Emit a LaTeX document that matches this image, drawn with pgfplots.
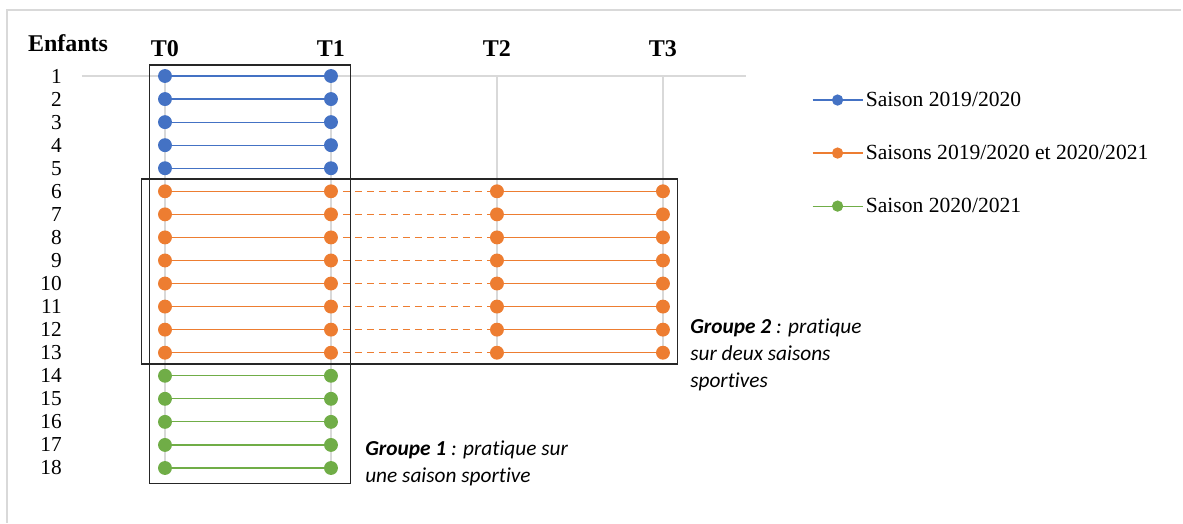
\documentclass[border=0pt]{standalone}
\usepackage{fontspec}
\setmainfont{Liberation Serif}
\newfontfamily\calibri[Ligatures={NoCommon}]{Carlito}
\usepackage{pgfplots}
\pgfplotsset{compat=1.18}
\definecolor{cblue}{HTML}{4472C4}
\definecolor{corange}{HTML}{ED7D31}
\definecolor{cgreen}{HTML}{70AD47}
\definecolor{cgrid}{HTML}{D9D9D9}
\begin{document}
\begin{tikzpicture}
\begin{axis}[
  scale only axis, width=498pt, height=302.66pt,
  xmin=-0.5, xmax=3.5, ymin=1, ymax=18.5, y dir=reverse,
  clip=false,
  axis line style={draw=none},
  major tick length=0pt,
  xtick={0,1,2,3}, xticklabels={T0,T1,T2,T3},
  xticklabel pos=upper,
  xticklabel style={font=\fontsize{18}{20}\selectfont\bfseries, anchor=south, yshift=11.2pt},
  ytick={1,2,3,4,5,6,7,8,9,10,11,12,13,14,15,16,17,18},
  yticklabels={1,2,3,4,5,6,7,8,9,10,11,12,13,14,15,16,17,18},
  yticklabel style={font=\fontsize{16}{18}\selectfont, anchor=east, xshift=-11.7pt},
  unbounded coords=jump,
  legend style={draw=none, fill=none, at={(axis description cs:1.093,0.809)}, anchor=west,
    font=\fontsize{16.2}{18}\selectfont, row sep=23.5pt},
  legend cell align=left,
  legend image code/.code={\draw[mark repeat=2,mark phase=2,mark size=3.75pt] plot coordinates {(0pt,0pt)(18.75pt,0pt)(37.5pt,0pt)};},
]
% top axis line
\addplot[forget plot, cgrid, line width=1.5pt] coordinates {(-0.5,1)(3.5,1)};
% vertical guide lines
\addplot[forget plot, cgrid, line width=1.5pt] coordinates {(0,1)(0,18) (nan,nan) (1,1)(1,18) (nan,nan) (2,1)(2,13) (nan,nan) (3,1)(3,13)};
% dashed connections T1-T2
\addplot[forget plot, corange, line width=1pt, dash pattern=on 5pt off 4pt] coordinates {
(1,6)(2,6) (nan,nan) (1,7)(2,7) (nan,nan) (1,8)(2,8) (nan,nan) (1,9)(2,9) (nan,nan)
(1,10)(2,10) (nan,nan) (1,11)(2,11) (nan,nan) (1,12)(2,12) (nan,nan) (1,13)(2,13)};
% blue
\addplot[cblue, line width=0.9pt, mark=*, mark size=4.75pt, mark options={solid, draw=cblue, fill=cblue}] coordinates {
(0,1)(1,1) (nan,nan) (0,2)(1,2) (nan,nan) (0,3)(1,3) (nan,nan) (0,4)(1,4) (nan,nan) (0,5)(1,5)};
\addlegendentry{Saison 2019/2020}
% orange
\addplot[corange, line width=0.9pt, mark=*, mark size=4.75pt, mark options={solid, draw=corange, fill=corange}] coordinates {
(0,6)(1,6) (nan,nan) (2,6)(3,6) (nan,nan)
(0,7)(1,7) (nan,nan) (2,7)(3,7) (nan,nan)
(0,8)(1,8) (nan,nan) (2,8)(3,8) (nan,nan)
(0,9)(1,9) (nan,nan) (2,9)(3,9) (nan,nan)
(0,10)(1,10) (nan,nan) (2,10)(3,10) (nan,nan)
(0,11)(1,11) (nan,nan) (2,11)(3,11) (nan,nan)
(0,12)(1,12) (nan,nan) (2,12)(3,12) (nan,nan)
(0,13)(1,13) (nan,nan) (2,13)(3,13)};
\addlegendentry{Saisons 2019/2020 et 2020/2021}
% green
\addplot[cgreen, line width=0.9pt, mark=*, mark size=4.75pt, mark options={solid, draw=cgreen, fill=cgreen}] coordinates {
(0,14)(1,14) (nan,nan) (0,15)(1,15) (nan,nan) (0,16)(1,16) (nan,nan) (0,17)(1,17) (nan,nan) (0,18)(1,18)};
\addlegendentry{Saison 2020/2021}
% group boxes
\draw[black!85, line width=0.8pt] (axis cs:-0.096,0.523) rectangle (axis cs:1.120,18.69);
\draw[black!85, line width=0.8pt] (axis cs:-0.139,5.467) rectangle (axis cs:3.090,13.49);
% header
\node[font=\fontsize{18}{20}\selectfont\bfseries] at (axis cs:-0.584,-0.41) {Enfants};
% annotations
\node[anchor=west, align=left, inner sep=0pt, font=\calibri\fontsize{16}{20.25}\selectfont\itshape] at (axis cs:3.163,13.099)
  {\textbf{Groupe 2} : pratique\\ sur deux saisons\\ sportives};
\node[anchor=west, align=left, inner sep=0pt, font=\calibri\fontsize{16}{20.25}\selectfont\itshape] at (axis cs:1.205,17.795)
  {\textbf{Groupe 1} : pratique sur\\ une saison sportive};
% outer frame and bounding box
\draw[cgrid, line width=1.5pt] (axis cs:-0.952,20.37) -- (axis cs:-0.952,-1.862) -- (axis cs:6.12,-1.862);
\path (axis cs:-0.994,-2.296) rectangle (axis cs:6.133,20.384);
\end{axis}
\end{tikzpicture}
\end{document}
